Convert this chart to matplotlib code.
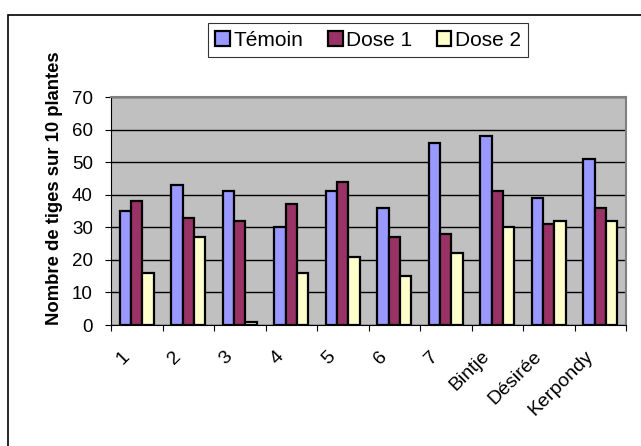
import numpy as np
import matplotlib.pyplot as plt
from matplotlib.patches import Rectangle

plt.rcParams['font.family'] = ['Liberation Sans', 'DejaVu Sans']

categories = ['1', '2', '3', '4', '5', '6', '7', 'Bintje', 'Désirée', 'Kerpondy']
temoin = [35, 43, 41, 30, 41, 36, 56, 58, 39, 51]
dose1 = [38, 33, 32, 37, 44, 27, 28, 41, 31, 36]
dose2 = [16, 27, 1, 16, 21, 15, 22, 30, 32, 32]

fig = plt.figure(figsize=(6.41, 4.46), dpi=100)
# cadre extérieur (déborde à droite et en bas)
fig.patches.append(Rectangle((8 / 641, -0.05), 1.0, 1 - 15 / 446 + 0.05, transform=fig.transFigure,
                             fill=False, edgecolor='black', linewidth=1.2))

ax = fig.add_axes([111 / 641, 1 - 325 / 446, 515 / 641, 228 / 446])
ax.set_facecolor('#C0C0C0')

x = np.arange(len(categories))
w = 0.22
kw = dict(edgecolor='black', linewidth=1.6, zorder=3)
ax.bar(x - w, temoin, w, color='#9999FF', label='Témoin', **kw)
ax.bar(x, dose1, w, color='#993366', label='Dose 1', **kw)
ax.bar(x + w, dose2, w, color='#FFFFCC', label='Dose 2', **kw)

ax.set_xlim(-0.5, len(categories) - 0.5)
ax.set_ylim(0, 70)
ax.set_yticks(range(0, 71, 10))
ax.yaxis.grid(True, color='black', linewidth=1, zorder=0)
ax.set_axisbelow(True)

# étiquettes de catégories inclinées, un peu décalées à gauche comme dans Excel
ax.set_xticks(np.arange(-0.5, len(categories)))
ax.set_xticklabels([])
ax.tick_params(axis='x', length=4, direction='out', color='black')
for xi, cat in zip(x, categories):
    ax.annotate(cat, xy=(xi, 0), xycoords=('data', 'axes fraction'), xytext=(-7.2, -20.7),
                textcoords='offset points', rotation=45, ha='right', va='center',
                rotation_mode='anchor', fontsize=14, annotation_clip=False)
ax.tick_params(axis='y', length=4, pad=9, labelsize=13.5, direction='out')

for s in ['top', 'right']:
    ax.spines[s].set_color('#808080')
    ax.spines[s].set_linewidth(1.5)
ax.spines['left'].set_color('black')
ax.spines['bottom'].set_color('black')

ax.set_ylabel('Nombre de tiges sur 10 plantes', fontsize=13.3, fontweight='bold')
ax.yaxis.set_label_coords(-0.094, 0.6)

leg = fig.legend(loc='center', bbox_to_anchor=(368 / 641, 1 - 40 / 446), ncol=3, frameon=True,
                 fancybox=False, edgecolor='black', fontsize=15, handlelength=0.7,
                 handleheight=0.7, handletextpad=0.15, columnspacing=1.2, borderpad=0.35)
leg.get_frame().set_linewidth(0.8)

fig.savefig('out.png', dpi=100)
